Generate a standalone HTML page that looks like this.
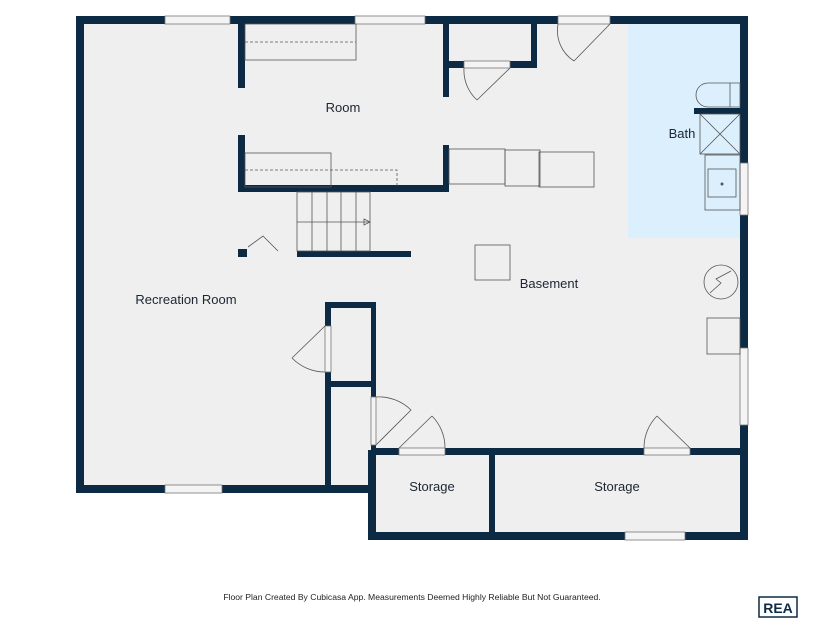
<!DOCTYPE html>
<html><head><meta charset="utf-8"><style>
html,body{margin:0;padding:0;background:#fff;}
svg{display:block;font-family:"Liberation Sans",sans-serif;}
</style></head><body>
<svg width="825" height="619" viewBox="0 0 825 619" xmlns="http://www.w3.org/2000/svg">
<rect x="80" y="20" width="664" height="470" fill="#efeff0"/>
<rect x="370" y="450" width="374" height="86" fill="#efeff0"/>
<rect x="628" y="24" width="112" height="214" fill="#dbf0fc"/>
<g fill="#0d2a45">
<rect x="76" y="16" width="672" height="8"/>
<rect x="76" y="16" width="8" height="477"/>
<rect x="76" y="485" width="300" height="8"/>
<rect x="740" y="16" width="8" height="524"/>
<rect x="368" y="532" width="380" height="8"/>
<rect x="368" y="450" width="8" height="90"/>
<rect x="371" y="302" width="5" height="238"/>
<rect x="325" y="302" width="51" height="6"/>
<rect x="325" y="302" width="6" height="188"/>
<rect x="325" y="381" width="51" height="6"/>
<rect x="371" y="448" width="377" height="7"/>
<rect x="489" y="450" width="6" height="86"/>
<rect x="238" y="20" width="7" height="68"/>
<rect x="238" y="135" width="7" height="57"/>
<rect x="238" y="185" width="211" height="7"/>
<rect x="443" y="20" width="6" height="77"/>
<rect x="443" y="145" width="6" height="47"/>
<rect x="531" y="20" width="6" height="48"/>
<rect x="449" y="61" width="88" height="7"/>
<rect x="297" y="251" width="114" height="6"/>
<rect x="238" y="249" width="9" height="8"/>
<rect x="694" y="108" width="50" height="6"/>
</g>
<g fill="#f4f4f4" stroke="#777" stroke-width="0.8">
<rect x="165" y="16" width="65" height="8"/>
<rect x="355" y="16" width="70" height="8"/>
<rect x="165" y="485" width="57" height="8"/>
<rect x="625" y="532" width="60" height="8"/>
<rect x="740" y="163" width="8" height="52"/>
<rect x="740" y="348" width="8" height="77"/>
<rect x="558" y="16" width="52" height="8"/>
<rect x="464" y="61" width="46" height="7"/>
<rect x="399" y="448" width="46" height="7"/>
<rect x="644" y="448" width="46" height="7"/>
<rect x="325" y="326" width="6" height="46"/>
<rect x="371" y="397" width="5" height="48"/>
</g>
<g fill="none" stroke="#555" stroke-width="0.8">
<path d="M610 24 L574 61 M558 24 A36 36 0 0 0 574 61"/>
<path d="M510 68 L477 100 M464 68 A40 40 0 0 0 477 100"/>
<path d="M399 448 L432 416 M445 448 A45 45 0 0 0 432 416"/>
<path d="M690 448 L657 416 M644 448 A45 45 0 0 1 657 416"/>
<path d="M325 326 L292 358 M325 372 A46 46 0 0 1 292 358"/>
<path d="M376 397 A46 46 0 0 1 411 410 L376 445"/>
<path d="M248 247 L263 236 L278 251"/>
<rect x="245" y="24" width="111" height="36"/>
<path d="M245 42 H356" stroke-dasharray="3,2"/>
<rect x="245" y="153" width="86" height="34"/>
<path d="M245 170 H397 V187" stroke-dasharray="3,2"/>
<rect x="449" y="149" width="56" height="35"/>
<rect x="505" y="150" width="35" height="36"/>
<rect x="539" y="152" width="55" height="35"/>
<rect x="297" y="192" width="73" height="59"/>
<path d="M312 192 V251 M327 192 V251 M341 192 V251 M356 192 V251 M297 222 H370"/>
<path d="M364 219 L370 222 L364 225 Z"/>
<rect x="475" y="245" width="35" height="35"/>
<rect x="707" y="318" width="33" height="36"/>
<circle cx="721" cy="282" r="17"/>
<path d="M710 293 L721 283 L716 279 L731 271"/>
<rect x="700" y="114" width="40" height="40"/>
<path d="M700 114 L740 154 M740 114 L700 154"/>
<rect x="705" y="155" width="35" height="55"/>
<rect x="708" y="169" width="28" height="28"/>
<path d="M730 83 H708 A12 12 0 0 0 708 107 H730 Z M730 83 H740 V107 H730"/>
</g>
<circle cx="722" cy="184" r="1.5" fill="#555"/>
<g fill="#1c2530" font-size="13" text-anchor="middle">
<text x="343" y="112">Room</text>
<text x="682" y="138">Bath</text>
<text x="186" y="304">Recreation Room</text>
<text x="549" y="288">Basement</text>
<text x="432" y="491">Storage</text>
<text x="617" y="491">Storage</text>
</g>
<text x="412" y="600" font-size="8.6" fill="#222" text-anchor="middle">Floor Plan Created By Cubicasa App. Measurements Deemed Highly Reliable But Not Guaranteed.</text>
<rect x="759" y="597" width="38" height="20" fill="none" stroke="#0d2a45" stroke-width="1.5"/>
<text x="778" y="613" font-size="14" font-weight="bold" fill="#0d2a45" text-anchor="middle">REA</text>
</svg>
</body></html>
